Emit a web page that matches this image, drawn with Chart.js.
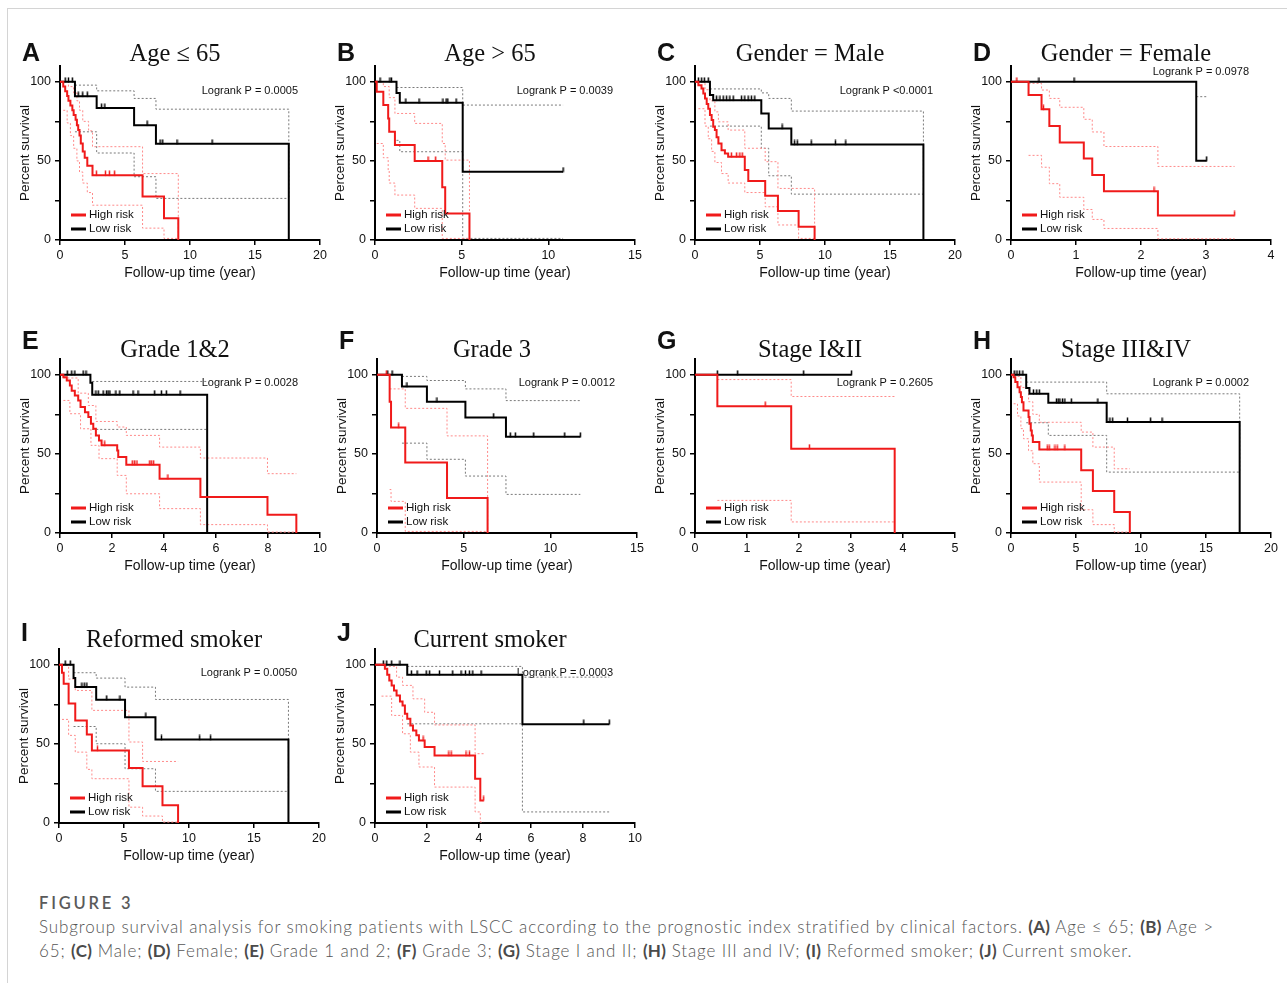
<!DOCTYPE html>
<html>
<head>
<meta charset="utf-8">
<script src="https://cdn.jsdelivr.net/npm/chart.js@4.4.0/dist/chart.umd.min.js"></script>
<style>
  body { margin: 0; background: #fff; width: 1287px; height: 983px; overflow: hidden; position: relative; }
  #frame { position: absolute; left: 7px; top: 8px; width: 1300px; height: 1000px; border-top: 1px solid #d4d4d4; border-left: 1px solid #d4d4d4; }
  .panel { position: absolute; }
  #fig { position: absolute; left: 39px; top: 893px; font: 600 16.5px 'Lato', 'Noto Sans', sans-serif; color: #5a5a5a; letter-spacing: 2.8px; }
  #cap { position: absolute; left: 39px; top: 915px; width: 1245px; font: 300 17px 'Lato', 'Noto Sans', sans-serif; line-height: 24px; color: #555; letter-spacing: 0.87px; }
  #cap b { color: #4a4a4a; font-weight: 700; letter-spacing: 0.3px; }
</style>
</head>
<body>
<div id="frame"></div>
<div id="fig">FIGURE 3</div>
<div id="cap">Subgroup survival analysis for smoking patients with LSCC according to the prognostic index stratified by clinical factors. <b>(A)</b> Age ≤ 65; <b>(B)</b> Age &gt;<br>65; <b>(C)</b> Male; <b>(D)</b> Female; <b>(E)</b> Grade 1 and 2; <b>(F)</b> Grade 3; <b>(G)</b> Stage I and II; <b>(H)</b> Stage III and IV; <b>(I)</b> Reformed smoker; <b>(J)</b> Current smoker.</div>
<script>
// axis ticks
const X20 = [0, 5, 10, 15, 20];
const X15 = [0, 5, 10, 15];
const X10 = [0, 2, 4, 6, 8, 10];
const X5 = [0, 1, 2, 3, 4, 5];
const X4 = [0, 1, 2, 3, 4];
const yTicks = [0, 25, 50, 75, 100];
const yLabels = [0, 50, 100];

// curves: [time (year), percent survival], censor marks: times
// A  Age <= 65
const A_high = [[0,100],[0.25,97],[0.4,94],[0.55,91],[0.65,88],[0.8,85],[0.95,82],[1.05,79],[1.2,76],[1.3,72.5],[1.4,69.5],[1.5,66],[1.6,61],[1.75,56],[1.9,52],[2.1,47],[2.5,41],[6.35,27.5],[8.0,13.7],[9.1,0]];
const A_highUp = [[0.25,100],[0.65,97],[1.05,93],[1.3,88],[1.5,82],[1.75,75],[2.2,69],[2.5,59],[6.35,42],[9.1,0]];
const A_highLo = [[0.25,82],[0.55,74],[0.8,66],[1.05,58],[1.3,50],[1.5,43],[1.75,36],[2.1,30],[2.5,22],[6.35,7.5],[8.0,1],[9.1,1]];
const A_highCens = [2.8, 3.5, 3.8, 4.2];
const A_low = [[0,100],[1.15,90.9],[2.82,83.4],[5.7,72.6],[7.38,60.8],[17.6,0]];
const A_lowUp = [[1.15,97.9],[2.82,94.3],[5.7,89.5],[7.38,82.7],[17.6,26.3]];
const A_lowLo = [[1.15,68.4],[2.82,55],[5.7,40],[7.38,26.3],[17.6,26.3]];
const A_lowCens = [0.4, 0.65, 0.95, 1.4, 1.75, 2.1, 3.2, 3.45, 6.7, 7.7, 7.9, 9.0, 11.7];

// B  Age > 65
const B_high = [[0,100],[0.1,93.7],[0.48,85.3],[0.76,76.8],[0.82,68.4],[1.15,60],[2.29,50],[3.88,33.3],[4.05,16.8],[5.45,0]];
const B_highUp = [[0.1,100],[0.48,97],[0.82,90],[1.15,80],[2.29,73.7],[3.88,61],[4.05,50.5],[5.45,0]];
const B_highLo = [[0.1,61],[0.48,52],[0.76,44],[0.82,36],[1.15,28.4],[2.29,20],[3.88,1],[5.45,1]];
const B_highCens = [3.06, 3.5];
const B_low = [[0,100],[1.24,93],[1.43,86.7],[5.06,43.2],[10.85,43.2]];
const B_lowUp = [[1.24,96.4],[5.06,85.3],[10.85,85.3]];
const B_lowLo = [[1.24,63],[1.43,55.8],[5.06,1],[10.85,1]];
const B_lowCens = [0.29, 0.86, 0.95, 1.78, 2.54, 3.92, 4.1, 4.2, 4.68, 10.85];

// C  Male
const C_high = [[0,100],[0.26,97.9],[0.5,95.8],[0.64,92.6],[0.77,89.5],[0.9,86],[1.02,83],[1.15,79],[1.28,75.8],[1.4,71.6],[1.53,69.5],[1.66,65],[1.8,61],[2.04,56.8],[2.3,54.7],[2.55,52.6],[3.83,44.2],[4.1,37.3],[5.4,28],[6.38,18.3],[7.97,8.4],[9.2,0]];
const C_highUp = [[0.26,100],[0.77,95],[1.15,88],[1.53,81],[1.8,74.7],[2.55,69.5],[3.83,58],[5.4,49.5],[6.38,32.6],[9.2,0]];
const C_highLo = [[0.26,83],[0.77,72],[1.02,64],[1.28,56],[1.53,49],[2.04,42],[2.55,36],[3.83,30],[5.4,21],[6.38,9.5],[7.97,1],[9.2,1]];
const C_highCens = [2.8, 3.2, 3.45, 3.63];
const C_low = [[0,100],[1.15,91.6],[1.4,88.4],[5.1,80],[5.67,70.5],[7.41,60.4],[17.57,0]];
const C_lowUp = [[1.15,95.5],[5.1,93],[5.67,89.5],[7.41,81.5],[17.57,29.5]];
const C_lowLo = [[1.15,72],[5.1,58],[5.67,40.6],[7.41,29],[17.57,29]];
const C_lowCens = [0.26, 0.51, 0.72, 1.02, 1.66, 1.92, 2.17, 2.43, 2.68, 2.94, 3.58, 3.83, 4.09, 4.34, 4.6, 6.7, 7.66, 7.87, 8.94, 10.8, 11.6];

// D  Female
const D_high = [[0,100],[0.27,91.6],[0.47,82.6],[0.59,72.1],[0.75,61.6],[1.12,51.6],[1.25,41.1],[1.43,30.8],[2.26,15.5],[3.44,15.5]];
const D_highUp = [[0.27,99],[0.47,94.8],[0.59,89.5],[0.75,83.9],[1.12,76.3],[1.25,68.3],[1.43,59.1],[2.26,46.5],[3.44,46.5]];
const D_highLo = [[0.27,53.5],[0.47,46],[0.59,35.6],[0.75,27],[1.12,19.3],[1.25,13],[1.43,7.3],[2.26,0.8],[3.44,0.8]];
const D_highCens = [0.09, 0.5, 2.2, 3.44];
const D_low = [[0,100],[2.85,50.1],[3.01,50.1]];
const D_lowUp = [[2.85,90.6],[3.01,90.6]];
const D_lowLo = [];
const D_lowCens = [0.43, 0.97, 3.01];

// E  Grade 1&2
const E_high = [[0,100],[0.13,98.5],[0.26,96.4],[0.38,93.3],[0.45,90],[0.57,87],[0.7,83.8],[0.79,79.6],[0.96,76.4],[1.09,73.3],[1.19,69],[1.28,65.9],[1.38,61.7],[1.5,58.5],[1.6,55.4],[2.2,52.2],[2.24,48],[2.55,43.2],[3.83,34.3],[5.4,22.7],[7.98,11.6],[9.09,0]];
const E_highUp = [[0.13,98],[0.7,88.4],[1.09,80.6],[1.38,70.5],[2.2,67],[2.55,61.7],[3.83,54.3],[5.4,47.4],[7.98,37.5],[9.09,37.5]];
const E_highLo = [[0.13,83.8],[0.38,75.4],[0.79,65.9],[1.19,55.4],[1.5,47],[2.2,36.4],[2.55,24.8],[3.83,15.4],[5.4,5.3],[7.98,0.6],[9.09,0.6]];
const E_highCens = [1.72, 2.78, 2.87, 2.96, 3.45, 3.51, 3.6, 4.15];
const E_low = [[0,100],[1.17,95],[1.24,87.4],[5.66,0]];
const E_lowUp = [[1.24,95.8],[5.66,95.8]];
const E_lowLo = [[1.24,65.5],[5.66,65.5]];
const E_lowCens = [0.28, 0.45, 0.57, 0.89, 1.0, 1.38, 1.47, 1.66, 1.79, 1.85, 1.92, 2.15, 2.3, 2.81, 3.0, 3.64, 3.9, 4.09, 4.62];

// F  Grade 3
const F_high = [[0,100],[0.73,83],[0.81,66.7],[1.63,44.5],[4.04,22.2],[6.38,0]];
const F_highUp = [[0.73,91.1],[1.63,78.8],[4.04,61.4],[6.38,0]];
const F_highLo = [[0.73,27.5],[0.81,20],[1.63,1],[6.38,1]];
const F_highCens = [0.54, 1.25];
const F_low = [[0,100],[1.44,92.6],[2.88,83],[5.1,73],[7.44,60.8],[11.73,60.8]];
const F_lowUp = [[1.44,99],[2.88,96.4],[5.1,91.1],[7.44,83.7],[11.73,83.7]];
const F_lowLo = [[1.44,56.8],[2.88,46.6],[5.1,36],[7.44,24.4],[11.73,24.4]];
const F_lowCens = [0.62, 0.87, 1.73, 3.46, 6.73, 7.69, 7.98, 9.04, 10.83, 11.73];

// G  Stage I&II
const G_high = [[0,100],[0.43,80.2],[1.85,53.3],[3.84,0]];
const G_highUp = [[0.43,97],[1.85,86.3],[3.84,86.3]];
const G_highLo = [[0.43,20.6],[1.85,7],[3.84,7]];
const G_highCens = [1.35, 2.2];
const G_low = [[0,100],[3.01,100]];
const G_lowUp = [];
const G_lowLo = [];
const G_lowCens = [0.43, 0.82, 2.09, 3.01];

// H  Stage III&IV
const H_high = [[0,100],[0.2,98.5],[0.33,95.4],[0.5,92.2],[0.66,89],[0.76,85.9],[0.84,82.7],[0.96,77.5],[1.35,73.3],[1.42,69],[1.52,64.8],[1.6,61.7],[1.68,57.5],[2.18,52.8],[5.4,39.6],[6.3,26.5],[7.94,13.3],[9.14,0]];
const H_highUp = [[0.2,99],[0.76,92],[1.35,83],[1.68,75],[2.18,70],[5.4,63.8],[6.3,54.3],[7.94,40.6],[9.14,40.6]];
const H_highLo = [[0.2,81.7],[0.5,74],[0.76,66],[0.96,59.6],[1.35,52],[1.68,43.8],[2.18,32.2],[5.4,14.7],[6.3,5.3],[7.94,0.6],[9.14,0.6]];
const H_highCens = [2.79, 2.94, 3.38, 3.55, 4.14];
const H_low = [[0,100],[1.17,91.6],[1.42,88],[2.87,82.3],[7.36,70.1],[17.59,0]];
const H_lowUp = [[1.17,95.4],[7.36,88],[17.59,38.5]];
const H_lowLo = [[1.17,69.7],[2.87,61.7],[7.36,38.5],[17.59,38.5]];
const H_lowCens = [0.25, 0.46, 0.66, 0.91, 1.73, 1.98, 2.18, 3.5, 3.63, 3.76, 3.96, 4.14, 4.64, 6.68, 7.61, 7.82, 8.96, 10.74, 11.62];

// I  Reformed smoker
const I_high = [[0,100],[0.23,95],[0.36,88],[0.74,75.5],[1.25,64.8],[2.14,56],[2.53,45.9],[5.38,34.7],[6.43,23.2],[7.96,11.2],[9.16,0]];
const I_highUp = [[0.23,99.6],[0.74,91],[1.25,83.8],[2.53,71.2],[5.38,51.2],[6.43,38.9],[9.16,38.9]];
const I_highLo = [[0.23,65.5],[0.74,55.4],[1.25,44.8],[2.14,33.9],[2.53,28],[5.38,10],[6.43,4.4],[7.96,0.6],[9.16,0.6]];
const I_highCens = [2.96];
const I_low = [[0,100],[1.12,91.6],[1.25,85.9],[2.86,77.9],[5.08,66.9],[7.42,52.8],[17.65,0]];
const I_lowUp = [[1.12,95],[2.86,91.6],[5.08,85.9],[7.42,78.1],[17.65,20]];
const I_lowLo = [[1.12,61],[2.86,50.1],[5.08,34.3],[7.42,20],[17.65,20]];
const I_lowCens = [0.48, 0.87, 1.76, 1.94, 2.14, 3.67, 4.69, 6.68, 7.88, 10.82, 11.66];

// J  Current smoker
const J_high = [[0,100],[0.38,97.5],[0.47,93.7],[0.55,90.1],[0.64,87],[0.73,83.8],[0.83,80.6],[0.96,76.8],[1.06,74.3],[1.15,69],[1.24,65.9],[1.36,61.7],[1.46,58.5],[1.59,55.4],[1.69,52.2],[1.91,48],[2.29,42.7],[3.85,28],[4.05,14.3],[4.18,14.3]];
const J_highUp = [[0.38,99],[0.83,92.2],[1.06,87],[1.46,78.5],[1.91,70],[2.29,62],[3.85,43.8],[4.18,43.8]];
const J_highLo = [[0.25,80.2],[0.64,68],[1.06,56.4],[1.36,44.8],[1.69,35.4],[2.29,22.7],[3.85,7],[4.05,0.6],[4.18,0.6]];
const J_highCens = [1.85, 2.84, 2.93, 3.5, 3.63, 4.18];
const J_low = [[0,100],[1.24,93.7],[5.67,62.5],[9.01,62.5]];
const J_lowUp = [[1.24,99],[5.67,92.2],[9.01,92.2]];
const J_lowLo = [[1.24,62.7],[5.67,7],[9.01,7]];
const J_lowCens = [0.32, 0.45, 0.64, 0.96, 1.4, 1.62, 1.97, 2.1, 2.48, 2.99, 3.31, 3.48, 3.63, 3.76, 4.08, 8.03, 9.01];

// panel setup (pos = canvas left/top, row = title row)
const panels = [
  { id: 'A', title: 'Age ≤ 65', p: 'Logrank P = 0.0005', pY: 94, xMax: 20, xTicks: X20, pos: [10, 30], row: 0,
    high: A_high, highUp: A_highUp, highLo: A_highLo, highCens: A_highCens, low: A_low, lowUp: A_lowUp, lowLo: A_lowLo, lowCens: A_lowCens },
  { id: 'B', title: 'Age > 65', p: 'Logrank P = 0.0039', pY: 94, xMax: 15, xTicks: X15, pos: [325, 30], row: 0,
    high: B_high, highUp: B_highUp, highLo: B_highLo, highCens: B_highCens, low: B_low, lowUp: B_lowUp, lowLo: B_lowLo, lowCens: B_lowCens },
  { id: 'C', title: 'Gender = Male', p: 'Logrank P <0.0001', pY: 94, xMax: 20, xTicks: X20, pos: [645, 30], row: 0,
    high: C_high, highUp: C_highUp, highLo: C_highLo, highCens: C_highCens, low: C_low, lowUp: C_lowUp, lowLo: C_lowLo, lowCens: C_lowCens },
  { id: 'D', title: 'Gender = Female', p: 'Logrank P = 0.0978', pY: 106, xMax: 4, xTicks: X4, pos: [961, 30], row: 0,
    high: D_high, highUp: D_highUp, highLo: D_highLo, highCens: D_highCens, low: D_low, lowUp: D_lowUp, lowLo: D_lowLo, lowCens: D_lowCens },
  { id: 'E', title: 'Grade 1&2', p: 'Logrank P = 0.0028', pY: 95, xMax: 10, xTicks: X10, pos: [10, 323], row: 1,
    high: E_high, highUp: E_highUp, highLo: E_highLo, highCens: E_highCens, low: E_low, lowUp: E_lowUp, lowLo: E_lowLo, lowCens: E_lowCens },
  { id: 'F', title: 'Grade 3', p: 'Logrank P = 0.0012', pY: 95, xMax: 15, xTicks: X15, pos: [327, 323], row: 1,
    high: F_high, highUp: F_highUp, highLo: F_highLo, highCens: F_highCens, low: F_low, lowUp: F_lowUp, lowLo: F_lowLo, lowCens: F_lowCens },
  { id: 'G', title: 'Stage I&II', p: 'Logrank P = 0.2605', pY: 95, xMax: 5, xTicks: X5, pos: [645, 323], row: 1,
    high: G_high, highUp: G_highUp, highLo: G_highLo, highCens: G_highCens, low: G_low, lowUp: G_lowUp, lowLo: G_lowLo, lowCens: G_lowCens },
  { id: 'H', title: 'Stage III&IV', p: 'Logrank P = 0.0002', pY: 95, xMax: 20, xTicks: X20, pos: [961, 323], row: 1,
    high: H_high, highUp: H_highUp, highLo: H_highLo, highCens: H_highCens, low: H_low, lowUp: H_lowUp, lowLo: H_lowLo, lowCens: H_lowCens },
  { id: 'I', title: 'Reformed smoker', p: 'Logrank P = 0.0050', pY: 95, xMax: 20, xTicks: X20, pos: [9, 613], row: 2,
    high: I_high, highUp: I_highUp, highLo: I_highLo, highCens: I_highCens, low: I_low, lowUp: I_lowUp, lowLo: I_lowLo, lowCens: I_lowCens },
  { id: 'J', title: 'Current smoker', p: 'Logrank P = 0.0003', pY: 95, xMax: 10, xTicks: X10, pos: [325, 613], row: 2,
    high: J_high, highUp: J_highUp, highLo: J_highLo, highCens: J_highCens, low: J_low, lowUp: J_lowUp, lowLo: J_lowLo, lowCens: J_lowCens }
];

const rowText = [ { titleY: 25, letterY: 24 }, { titleY: 28, letterY: 19 }, { titleY: 28, letterY: 21 } ];

const RED = '#f01a1a', RED_CI = '#ff8a8a', GREY_CI = '#7a7a7a';
const sans = "'Liberation Sans', Arial, sans-serif";

function stepAt(curve, t) {
  let s = curve[0][1];
  for (const [x, y] of curve) {
    if (x <= t) s = y; else break;
  }
  return s;
}

// small upward tick used as censor mark
function tickImg(color) {
  const c = document.createElement('canvas');
  c.width = 3;
  c.height = 10;
  const g = c.getContext('2d');
  g.fillStyle = color;
  g.fillRect(0.75, 0.5, 1.5, 5);
  return c;
}

function line(arr, color, width, dash) {
  return {
    data: arr.map(([x, y]) => ({ x, y })),
    borderColor: color, borderWidth: width, borderDash: dash || [],
    stepped: true, pointRadius: 0, fill: false
  };
}

function marks(times, curve, color) {
  return {
    data: times.map(t => ({ x: t, y: stepAt(curve, t) })),
    showLine: false, pointStyle: tickImg(color), pointRadius: 3,
    borderColor: color, backgroundColor: color
  };
}

function textPlugin(pn) {
  return {
    id: 'txt' + pn.id,
    afterDraw(chart) {
      const ctx = chart.ctx, area = chart.chartArea, rt = rowText[pn.row];
      ctx.save();
      ctx.fillStyle = '#111';
      ctx.textBaseline = 'middle';
      ctx.font = 'bold 25px ' + sans;
      ctx.textAlign = 'left';
      ctx.fillText(pn.id, 12, rt.letterY);
      ctx.font = "24.5px 'Liberation Serif', 'Times New Roman', serif";
      ctx.textAlign = 'center';
      ctx.fillText(pn.title, 165, rt.titleY);
      ctx.font = '11px ' + sans;
      ctx.textAlign = 'right';
      ctx.fillText(pn.p, area.right - 22, chart.scales.y.getPixelForValue(pn.pY));
      // legend
      const items = [['High risk', RED], ['Low risk', '#000']];
      items.forEach(([label, c], i) => {
        const y = area.bottom - 25 + i * 14;
        ctx.strokeStyle = c;
        ctx.lineWidth = 3;
        ctx.beginPath();
        ctx.moveTo(area.left + 11, y);
        ctx.lineTo(area.left + 26, y);
        ctx.stroke();
        ctx.textAlign = 'left';
        ctx.font = '11.5px ' + sans;
        ctx.fillStyle = '#111';
        ctx.fillText(label, area.left + 29, y);
      });
      ctx.restore();
    }
  };
}

panels.forEach(pn => {
  const box = document.createElement('div');
  box.className = 'panel';
  box.style.left = pn.pos[0] + 'px';
  box.style.top = pn.pos[1] + 'px';
  const cv = document.createElement('canvas');
  cv.width = 320;
  cv.height = 265;
  box.appendChild(cv);
  document.body.appendChild(box);

  new Chart(cv, {
    type: 'line',
    data: {
      datasets: [
        line(pn.high, RED, 2),
        line(pn.low, '#000', 2),
        marks(pn.highCens, pn.high, RED),
        marks(pn.lowCens, pn.low, '#000'),
        line(pn.highUp, RED_CI, 1, [2, 2]),
        line(pn.highLo, RED_CI, 1, [2, 2]),
        line(pn.lowUp, GREY_CI, 1, [2, 2]),
        line(pn.lowLo, GREY_CI, 1, [2, 2])
      ]
    },
    options: {
      responsive: false,
      animation: false,
      devicePixelRatio: 1,
      layout: { padding: { top: 36, right: 10, bottom: 7, left: 0 } },
      plugins: { legend: { display: false }, tooltip: { enabled: false } },
      scales: {
        x: {
          type: 'linear', min: 0, max: pn.xMax,
          afterBuildTicks: s => { s.ticks = pn.xTicks.map(v => ({ value: v })); },
          afterFit: s => { s.height = 48; },
          grid: { drawOnChartArea: false, drawTicks: true, tickLength: 5, color: '#000', lineWidth: 1.5 },
          border: { color: '#000', width: 2 },
          ticks: { color: '#111', maxRotation: 0, padding: 3, font: { family: sans, size: 12.5 } },
          title: { display: true, text: 'Follow-up time (year)', color: '#111', font: { family: sans, size: 14 }, padding: { top: 0, bottom: 6 } }
        },
        y: {
          min: 0, max: 110,
          afterBuildTicks: s => { s.ticks = yTicks.map(v => ({ value: v })); },
          afterFit: s => { s.width = 50; },
          grid: { drawOnChartArea: false, drawTicks: true, tickLength: 5, color: '#000', lineWidth: 1.5 },
          border: { color: '#000', width: 2 },
          ticks: { color: '#111', padding: 4, font: { family: sans, size: 12.5 },
                   callback: v => yLabels.includes(v) ? String(v) : '' },
          title: { display: true, text: 'Percent survival', color: '#111', font: { family: sans, size: 13.5 }, padding: { top: 7, bottom: 0 } }
        }
      }
    },
    plugins: [textPlugin(pn)]
  });
});
</script>
</body>
</html>
